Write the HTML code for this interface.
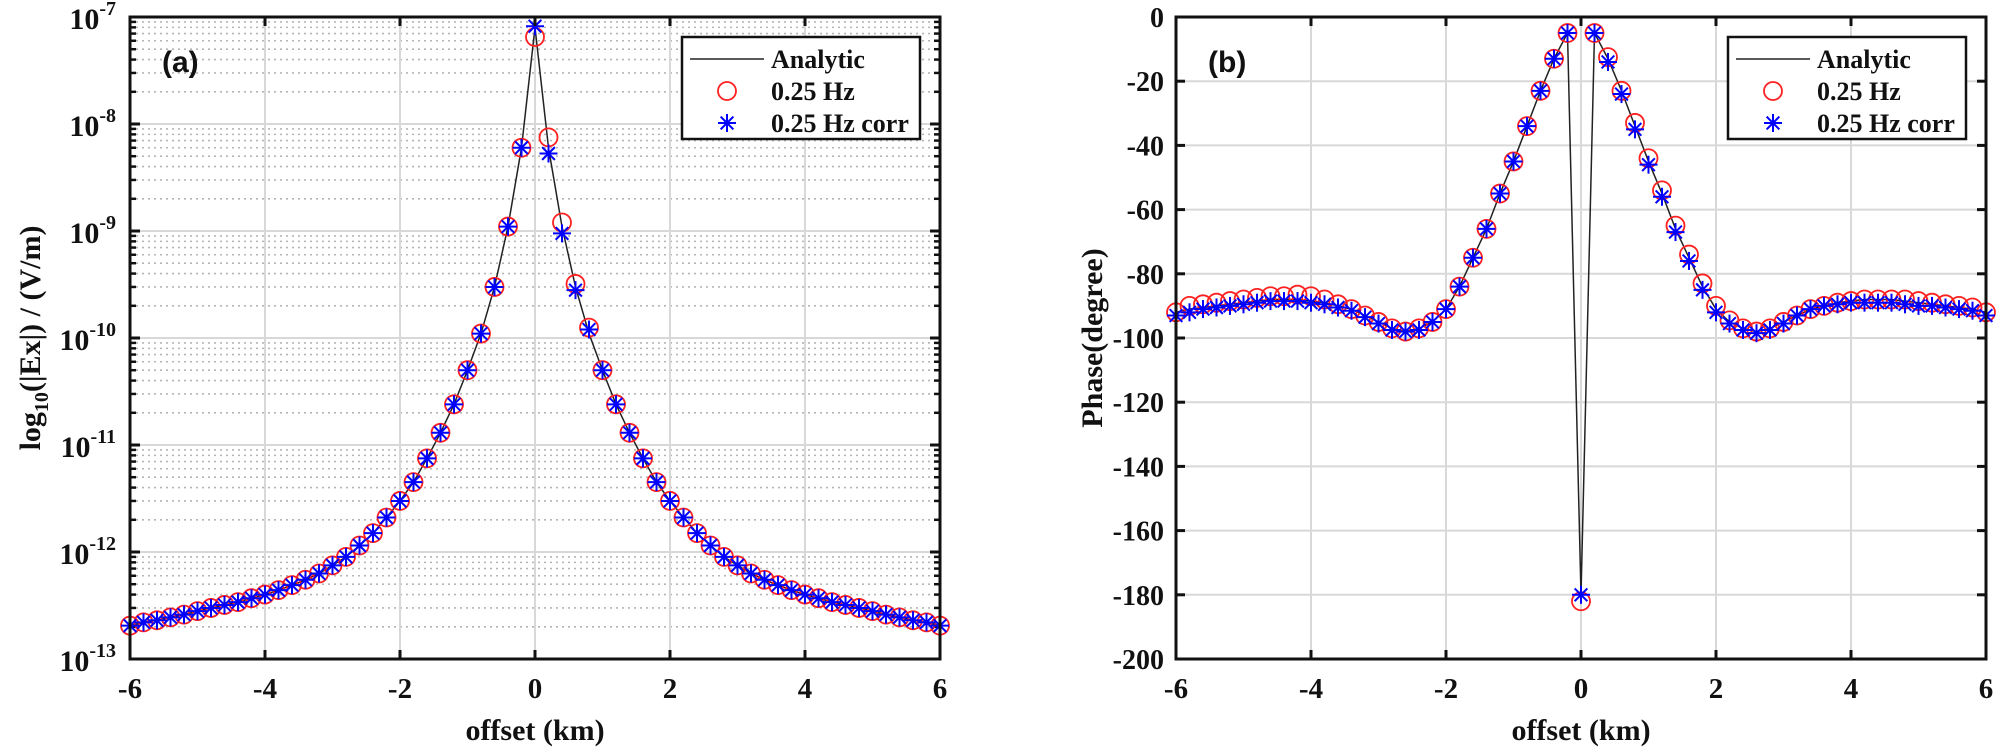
<!DOCTYPE html>
<html><head><meta charset="utf-8">
<style>
html,body{margin:0;padding:0;background:#fff;}
svg{display:block;}
text{font-family:"Liberation Serif",serif;font-weight:bold;fill:#111;}
</style></head>
<body>
<svg id="fig" width="2000" height="750" viewBox="0 0 2000 750" xmlns="http://www.w3.org/2000/svg"></svg>
<script>
// ---- data ----
const offsets = [-6,-5.8,-5.6,-5.4,-5.2,-5,-4.8,-4.6,-4.4,-4.2,-4,-3.8,-3.6,-3.4,-3.2,-3,-2.8,-2.6,-2.4,-2.2,-2,-1.8,-1.6,-1.4,-1.2,-1,-0.8,-0.6,-0.4,-0.2,0,0.2,0.4,0.6,0.8,1,1.2,1.4,1.6,1.8,2,2.2,2.4,2.6,2.8,3,3.2,3.4,3.6,3.8,4,4.2,4.4,4.6,4.8,5,5.2,5.4,5.6,5.8,6];
const ampHalf = [2.05e-13,2.2e-13,2.3e-13,2.45e-13,2.6e-13,2.8e-13,3.0e-13,3.2e-13,3.4e-13,3.7e-13,4.0e-13,4.4e-13,4.9e-13,5.5e-13,6.3e-13,7.5e-13,9e-13,1.15e-12,1.5e-12,2.1e-12,3e-12,4.5e-12,7.5e-12,1.3e-11,2.4e-11,5e-11,1.1e-10,3e-10,1.1e-9,6e-9];
const ampAnalytic = ampHalf.concat([8e-8], ampHalf.slice().reverse());
const ampCircle = ampHalf.concat([6.5e-8], [7.5e-9,1.2e-9,3.2e-10,1.25e-10], ampHalf.slice(0,26).reverse());
const ampStar = ampHalf.concat([8.2e-8], [5.3e-9,9.5e-10,2.8e-10,1.2e-10], ampHalf.slice(0,26).reverse());
const phHalf = [-92,-91,-90.5,-90,-89.5,-89,-88.5,-88,-88,-88,-88.5,-89,-90,-91,-93,-95,-97,-98,-97,-95,-91,-84,-75,-66,-55,-45,-34,-23,-13,-5];
const phAnalytic = phHalf.concat([-180], phHalf.slice().reverse());
const phCircle = [-92,-90,-89.5,-89,-88.5,-88,-87.5,-87,-87,-86.5,-87,-88,-89.5,-91,-93,-95,-97,-98,-97,-95,-91,-84,-75,-66,-55,-45,-34,-23,-13,-5,-182,-5,-12.5,-23,-33,-44,-54,-65,-74,-83,-90,-94.5,-97,-98,-97,-95,-93,-91,-90,-89,-88.5,-88,-88,-88,-88,-88.5,-89,-89.5,-90,-90.5,-92];
const phStar = [-93,-92,-91,-90.5,-90,-89.5,-89,-88.5,-88.5,-88.5,-89,-89.5,-90.5,-91.5,-93.5,-95.5,-97.5,-98,-97.5,-95,-91,-84,-75,-66,-55,-45,-34,-23,-13,-5,-180,-5,-14,-24,-35,-46,-56,-67,-76,-85,-92,-95.5,-97.5,-98.5,-97.5,-95.5,-93,-91,-90,-89.5,-89,-89,-89,-89,-89.5,-90,-90,-90.5,-91,-91.5,-93];
const xTicks = [-6,-4,-2,0,2,4,6];
const logTicks = [-13,-12,-11,-10,-9,-8,-7];
const phTicks = [0,-20,-40,-60,-80,-100,-120,-140,-160,-180,-200];

const NS="http://www.w3.org/2000/svg";
const svg=document.getElementById('fig');
function mk(tag,attrs,parent,txt){const e=document.createElementNS(NS,tag);for(const k in attrs)e.setAttribute(k,attrs[k]);if(txt!==undefined)e.textContent=txt;(parent||svg).appendChild(e);return e;}

const T=17,B=659;
const P1={l:130,r:940}, P2={l:1176,r:1986};
const xs=(p,v)=>p.l+(v+6)/12*(p.r-p.l);
const yLog=v=>B-(Math.log10(v)+13)/6*(B-T);
const yPh=v=>T+(-v)/200*(B-T);

function star(g,x,y,name){
  const s=mk('g',{},g);
  
  
  const r=9;
  for(let a=0;a<4;a++){const t=a*Math.PI/4;mk('line',{x1:x-r*Math.cos(t),y1:y-r*Math.sin(t),x2:x+r*Math.cos(t),y2:y+r*Math.sin(t),stroke:'#0000ff','stroke-width':2},s);}
}
function circle(g,x,y,name){
  const c=mk('circle',{cx:x,cy:y,r:9,fill:'none',stroke:'#ff2020','stroke-width':1.8},g);
  
  
}

function panel(p,isLog,ylab,tag,anal,circ,st){
  const g=mk('g',{});
  
  
  const ys=isLog?yLog:yPh;
  if(isLog){
    for(let d=-13;d<-7;d++)for(let m=2;m<=9;m++){
      const y=yLog(m*Math.pow(10,d));
      mk('line',{x1:p.l,x2:p.r,y1:y,y2:y,stroke:'#b5b5b5','stroke-width':1.6,'stroke-dasharray':'2,4'},g);
      mk('line',{x1:p.l,x2:p.l+6,y1:y,y2:y,stroke:'#111','stroke-width':2.5},g);
      mk('line',{x1:p.r,x2:p.r-6,y1:y,y2:y,stroke:'#111','stroke-width':2.5},g);
    }
  }
  xTicks.forEach(v=>{const x=xs(p,v);mk('line',{x1:x,x2:x,y1:T,y2:B,stroke:'#d8d8d8','stroke-width':2},g);});
  const yt=isLog?logTicks.map(d=>Math.pow(10,d)):phTicks;
  yt.forEach(v=>{const y=ys(v);mk('line',{x1:p.l,x2:p.r,y1:y,y2:y,stroke:'#d8d8d8','stroke-width':2},g);});
  const pts=offsets.map((o,i)=>xs(p,o)+','+ys(anal[i])).join(' ');
  const pl=mk('polyline',{points:pts,fill:'none',stroke:'#222','stroke-width':1.5},g);
  
  
  offsets.forEach((o,i)=>circle(g,xs(p,o),ys(circ[i]),'marker-025hz'));
  offsets.forEach((o,i)=>star(g,xs(p,o),ys(st[i]),'marker-025hz-corr'));
  mk('rect',{x:p.l,y:T,width:p.r-p.l,height:B-T,fill:'none',stroke:'#111','stroke-width':3},g);
  xTicks.forEach(v=>{const x=xs(p,v);
    mk('line',{x1:x,x2:x,y1:B,y2:B-9,stroke:'#111','stroke-width':3},g);
    mk('line',{x1:x,x2:x,y1:T,y2:T+9,stroke:'#111','stroke-width':3},g);
    const t=mk('text',{x:x,y:698,'font-size':29,'text-anchor':'middle'},g,String(v));
    
  });
  if(isLog){
    logTicks.forEach(d=>{const y=yLog(Math.pow(10,d));
      mk('line',{x1:p.l,x2:p.l+10,y1:y,y2:y,stroke:'#111','stroke-width':3},g);
      mk('line',{x1:p.r,x2:p.r-10,y1:y,y2:y,stroke:'#111','stroke-width':3},g);
      const t=mk('text',{x:p.l-14,y:y+12,'font-size':30,'text-anchor':'end'},g);
      
      mk('tspan',{},t,'10');mk('tspan',{dy:-14,'font-size':20},t,String(d));
    });
  } else {
    phTicks.forEach(v=>{const y=yPh(v);
      mk('line',{x1:p.l,x2:p.l+9,y1:y,y2:y,stroke:'#111','stroke-width':3},g);
      mk('line',{x1:p.r,x2:p.r-9,y1:y,y2:y,stroke:'#111','stroke-width':3},g);
      const t=mk('text',{x:p.l-12,y:y+10,'font-size':28,'text-anchor':'end'},g,String(v));
      
    });
  }
  const xl=mk('text',{x:(p.l+p.r)/2,y:740,'font-size':30,'text-anchor':'middle'},g,'offset (km)');
  
  const pt=mk('text',{x:p.l+32,y:72,'font-size':30,style:'font-family:"Liberation Sans",sans-serif'},g,tag);
  
  const lx=p.r-258, ly=37;
  const lg=mk('g',{},g);
  
  mk('rect',{x:lx,y:ly,width:238,height:102,fill:'#fff',stroke:'#111','stroke-width':2.5},lg);
  mk('line',{x1:lx+8,x2:lx+82,y1:ly+22,y2:ly+22,stroke:'#222','stroke-width':1.5},lg);
  circle(lg,lx+45,ly+54,'legend-marker-025hz');
  star(lg,lx+45,ly+86,'legend-marker-025hz-corr');
  [['Analytic',31],['0.25 Hz',63],['0.25 Hz corr',95]].forEach(([s,dy])=>{
    const t=mk('text',{x:lx+89,y:ly+dy,'font-size':26},lg,s);
    
  });
  return g;
}
panel(P1,true,'','(a)',ampAnalytic,ampCircle,ampStar);
panel(P2,false,'','(b)',phAnalytic,phCircle,phStar);

const yl1=mk('text',{transform:'translate(40,338) rotate(-90)','font-size':30,'text-anchor':'middle'});

mk('tspan',{},yl1,'log');mk('tspan',{dy:8,'font-size':20},yl1,'10');mk('tspan',{dy:-8},yl1,'(|Ex|) / (V/m)');
const yl2=mk('text',{transform:'translate(1102,338) rotate(-90)','font-size':30,'text-anchor':'middle'},svg,'Phase(degree)');

</script>
</body></html>
